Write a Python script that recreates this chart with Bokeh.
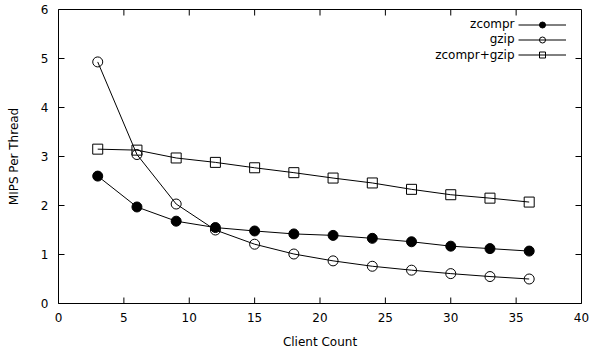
import math
from bokeh.plotting import figure
from bokeh.models import (FixedTicker, Range1d, Legend, LegendItem, Label)
from bokeh.embed import file_html
from bokeh.resources import INLINE

clients = [3, 6, 9, 12, 15, 18, 21, 24, 27, 30, 33, 36]
zcompr = [2.60, 1.97, 1.68, 1.55, 1.48, 1.42, 1.39, 1.33, 1.26, 1.17, 1.12, 1.07]
gzip = [4.93, 3.04, 2.03, 1.50, 1.21, 1.01, 0.87, 0.76, 0.68, 0.61, 0.55, 0.50]
zcompr_gzip = [3.15, 3.13, 2.97, 2.88, 2.77, 2.67, 2.56, 2.46, 2.33, 2.22, 2.15, 2.07]
series_names = ["zcompr", "gzip", "zcompr+gzip"]
x_ticks = [0, 5, 10, 15, 20, 25, 30, 35, 40]
y_ticks = [0, 1, 2, 3, 4, 5, 6]

FONT = "DejaVu Sans"
FS = "12px"
X0, X1, Y0, Y1 = 0, 40, 0, 6
TICK_PX = 6

p = figure(width=590, height=354, output_backend="svg", toolbar_location=None,
           x_range=Range1d(X0, X1), y_range=Range1d(Y0, Y1),
           min_border_left=58, min_border_right=9, min_border_top=9, min_border_bottom=51)
p.grid.visible = False
p.outline_line_color = "black"
p.outline_line_width = 1
p.background_fill_color = "white"
p.border_fill_color = "white"

for ax in (p.xaxis[0], p.yaxis[0]):
    ax.major_tick_in = 0
    ax.major_tick_out = 0
    ax.minor_tick_line_color = None
    ax.axis_line_color = "black"
    ax.major_tick_line_color = None
    ax.major_label_text_font = FONT
    ax.major_label_text_font_size = FS
    ax.major_label_text_color = "black"
    ax.axis_label_text_font = FONT
    ax.axis_label_text_font_size = FS
    ax.axis_label_text_font_style = "normal"
    ax.axis_label_text_color = "black"

p.xaxis[0].ticker = FixedTicker(ticks=x_ticks)
p.yaxis[0].ticker = FixedTicker(ticks=y_ticks)
p.xaxis[0].axis_label = "Client Count"
p.yaxis[0].axis_label = "MIPS Per Thread"
p.xaxis[0].major_label_standoff = 9
p.xaxis[0].axis_label_standoff = 10
p.yaxis[0].major_label_standoff = 10
p.yaxis[0].axis_label_standoff = 17

# inward tick marks on all four sides (gnuplot "mirror" style), length in screen px
xt = [t for t in x_ticks if X0 < t < X1]
yt = [t for t in y_ticks if Y0 < t < Y1]
tick_x = xt + xt + [X0] * len(yt) + [X1] * len(yt)
tick_y = [Y0] * len(xt) + [Y1] * len(xt) + yt + yt
tick_a = ([math.pi / 2] * len(xt) + [-math.pi / 2] * len(xt)
          + [0.0] * len(yt) + [math.pi] * len(yt))
p.ray(x=tick_x, y=tick_y, length=TICK_PX, length_units="screen", angle=tick_a,
      line_color="black", line_width=1)

items = []
markers = ["circle", "circle", "square"]
fills = ["black", None, None]
for name, vals, mk, fc in zip(series_names, [zcompr, gzip, zcompr_gzip], markers, fills):
    lr = p.line(clients, vals, line_color="black", line_width=1)
    sr = p.scatter(clients, vals, marker=mk, size=10, line_color="black",
                   fill_color=fc, line_width=1)
    items.append(LegendItem(label="", renderers=[lr, sr]))

legend = Legend(items=items, location=(460, 241), glyph_width=48, glyph_height=15,
                spacing=0, padding=0, margin=0, label_width=0, label_height=0,
                label_standoff=0, label_text_font_size="1px",
                border_line_color=None, background_fill_alpha=0)
p.add_layout(legend)

label_y = [5.70, 5.39, 5.08]
for name, ly in zip(series_names, label_y):
    p.add_layout(Label(x=34.88, y=ly, text=name, text_align="right", text_baseline="middle",
                       text_font=FONT, text_font_size=FS, text_color="black"))

open("out.html", "w").write(file_html(p, INLINE))
